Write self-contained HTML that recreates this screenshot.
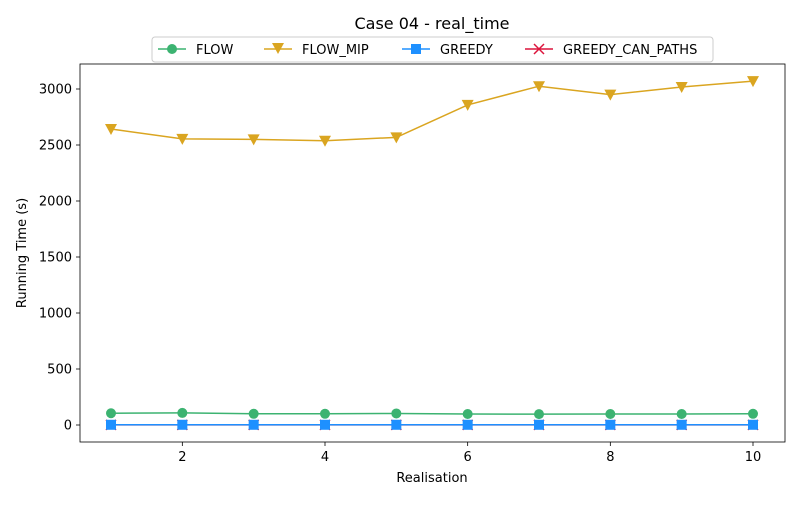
<!DOCTYPE html>
<html><head><meta charset="utf-8"><style>
body{margin:0;background:#fff;font-family:"Liberation Sans","DejaVu Sans",sans-serif;}
text{font-family:"DejaVu Sans","Liberation Sans",sans-serif;}
</style></head><body>
<svg id="chart" width="800" height="500" xmlns="http://www.w3.org/2000/svg">
<rect width="800" height="500" fill="#fff"/>
<text x="432" y="29" text-anchor="middle" font-size="16">Case 04 - real_time</text>
<g id="axes"></g>
<g id="series"></g>
<rect x="80" y="64" width="705" height="378" fill="none" stroke="#000" stroke-width="0.8"/>
<text x="432" y="482" text-anchor="middle" font-size="13">Realisation</text>
<text transform="translate(26,253) rotate(-90)" text-anchor="middle" font-size="13">Running Time (s)</text>
<g>
<rect x="152" y="37" width="561" height="25" rx="3" fill="#fff" stroke="#ccc"/>
<g><line x1="158" y1="49" x2="186" y2="49" stroke="#3cb371" stroke-width="1.5"/><circle cx="172" cy="49" r="5" fill="#3cb371"/><text x="196" y="54" font-size="13">FLOW</text></g>
<g><line x1="264" y1="49" x2="292" y2="49" stroke="#daa520" stroke-width="1.5"/><path d="M272,43 L284,43 L278,54 Z" fill="#daa520"/><text x="302" y="54" font-size="13">FLOW_MIP</text></g>
<g><line x1="402" y1="49" x2="430" y2="49" stroke="#1e90ff" stroke-width="1.5"/><rect x="411" y="44" width="10" height="10" fill="#1e90ff"/><text x="440" y="54" font-size="13">GREEDY</text></g>
<g><line x1="525" y1="49" x2="553" y2="49" stroke="#dc143c" stroke-width="1.5"/><path d="M534,44 L544,54 M544,44 L534,54" stroke="#dc143c" stroke-width="1.5"/><text x="563" y="54" font-size="13">GREEDY_CAN_PATHS</text></g>
</g>
</svg>
<script>
const realisations=[1,2,3,4,5,6,7,8,9,10];
const flowValues=[105,108,100,100,103,98,97,98,98,100];
const flowMipValues=[2643,2555,2550,2538,2568,2858,3025,2950,3018,3070];
const greedyValues=[2,2,2,2,2,2,2,2,2,2];
const greedyCanPathsValues=[1,1,1,1,1,1,1,1,1,1];
const xTicks=[2,4,6,8,10];
const yTicks=[0,500,1000,1500,2000,2500,3000];
const NS="http://www.w3.org/2000/svg";
const sx=v=>111+(v-1)*(642/9);
const sy=v=>425-v*(336/3000);
function mk(tag,attrs,parent){const e=document.createElementNS(NS,tag);for(const k in attrs)e.setAttribute(k,attrs[k]);parent.appendChild(e);return e;}
const axes=document.getElementById('axes');
xTicks.forEach(t=>{
  const g=mk('g',{},axes);
  
  
  mk('line',{x1:sx(t),x2:sx(t),y1:442,y2:446,stroke:'#000','stroke-width':0.8},g);
  const tx=mk('text',{x:sx(t),y:461,'text-anchor':'middle','font-size':13},g);tx.textContent=t;
});
yTicks.forEach(t=>{
  const g=mk('g',{},axes);
  
  
  mk('line',{x1:76,x2:80,y1:sy(t),y2:sy(t),stroke:'#000','stroke-width':0.8},g);
  const tx=mk('text',{x:72,y:sy(t)+4.5,'text-anchor':'end','font-size':13},g);tx.textContent=t;
});
const ser=document.getElementById('series');
function series(name,vals,color,marker){
  const g=mk('g',{},ser);
  
  
  mk('polyline',{points:vals.map((v,i)=>sx(realisations[i])+','+sy(v)).join(' '),fill:'none',stroke:color,'stroke-width':1.5},g);
  vals.forEach((v,i)=>{
    const x=sx(realisations[i]),y=sy(v);let m;
    if(marker==='o')m=mk('circle',{cx:x,cy:y,r:5,fill:color},g);
    else if(marker==='v')m=mk('path',{d:`M${x-6},${y-5} L${x+6},${y-5} L${x},${y+6} Z`,fill:color},g);
    else if(marker==='s')m=mk('rect',{x:x-5,y:y-5,width:10,height:10,fill:color},g);
    else m=mk('path',{d:`M${x-5},${y-5} L${x+5},${y+5} M${x+5},${y-5} L${x-5},${y+5}`,stroke:color,'stroke-width':1.5},g);
    
    
  });
}
series('series-flow',flowValues,'#3cb371','o');
series('series-flow-mip',flowMipValues,'#daa520','v');
series('series-greedy-can-paths',greedyCanPathsValues,'#dc143c','x');
series('series-greedy',greedyValues,'#1e90ff','s');
</script>
</body></html>
